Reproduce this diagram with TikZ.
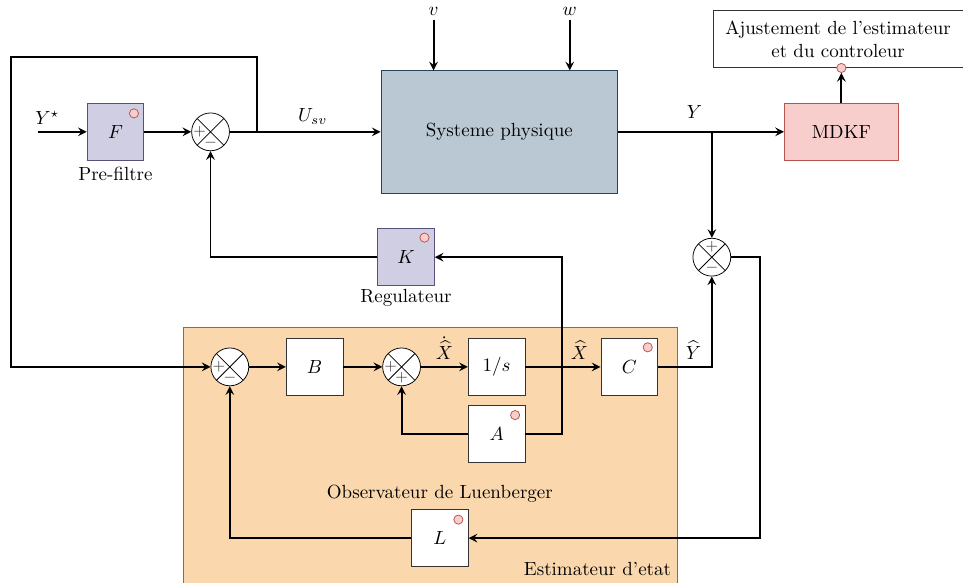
\documentclass[tikz,border=0pt]{standalone}
\usepackage{amsmath, amssymb}
\usepackage{xcolor}
\usepackage{tikz}
\usetikzlibrary{arrows, positioning, calc, backgrounds}

\definecolor{sysfill}{HTML}{BAC8D3}
\definecolor{sysdraw}{HTML}{23445D}
\definecolor{regfill}{HTML}{D0CEE2}
\definecolor{regdraw}{HTML}{56517E}
\definecolor{redfill}{HTML}{F8CECC}
\definecolor{reddraw}{HTML}{B85450}
\definecolor{estfill}{HTML}{FAD7AC}
\definecolor{estdraw}{HTML}{B46504}

\begin{document}
\begin{tikzpicture}[
    box/.style={draw=black!80, rectangle, minimum width=1.05cm, minimum height=1.05cm,
      fill=white, align=center},
    regbox/.style={box, draw=regdraw, fill=regfill},
    sysbox/.style={draw=sysdraw, fill=sysfill, rectangle, minimum width=4.38cm,
      minimum height=2.26cm},
    sumnode/.style={draw, circle, minimum size=0.7cm, inner sep=0pt, fill=white,
      path picture={\draw (path picture bounding box.north west) -- (path picture bounding box.south east)
        (path picture bounding box.north east) -- (path picture bounding box.south west);}},
    sign/.style={inner sep=0pt, font=\footnotesize, text=black!75},
    dot/.style={draw=reddraw, fill=redfill, circle, minimum size=0.17cm, inner sep=0pt},
    arrow/.style={line width=1pt,->,>=stealth}
]
\useasboundingbox (0,0) rectangle (17.82,-10.77);

% chaine directe
\node[sysbox] (sys) at (9.24,-2.44) {Systeme physique};
\node[sumnode, left=2.79cm of sys] (s1) {};
\node[regbox, left=0.87cm of s1] (F) {$F$};
\node[below=0pt of F] (Flbl) {Pre-filtre};
\coordinate[left=0.91cm of F] (yin);
\node[box, draw=reddraw, fill=redfill, minimum width=2.11cm, right=3.07cm of sys] (mdkf) {MDKF};
\node[box, minimum width=4.63cm, above=0.65cm of mdkf, xshift=-0.06cm] (ajust) {Ajustement de l'estimateur\\et du controleur};
\node[dot] (adot) at (ajust.south -| mdkf.north) {};
\coordinate[above=0.94cm of sys.north west, xshift=0.98cm] (vin);
\coordinate[above=0.94cm of sys.north west, xshift=3.5cm] (win);

% regulateur
\node[regbox, below=0.65cm of sys.south west, xshift=0.47cm] (K) {$K$};
\node[below=-2pt of K] (Klbl) {Regulateur};
\node[sumnode, right=4.77cm of K] (s3) {};

% observateur
\node[box, below=2.68cm of sys, xshift=-0.05cm] (inv) {$1/s$};
\node[sumnode, left=0.87cm of inv] (s4) {};
\node[box, left=0.72cm of s4] (B) {$B$};
\node[sumnode, left=0.68cm of B] (s2) {};
\node[box, right=1.39cm of inv] (C) {$C$};
\node[box, below=0.17cm of inv] (A) {$A$};
\node[box, below=0.87cm of A, xshift=-1.05cm] (L) {$L$};
\node[above=0pt of L] (Llbl) {Observateur de Luenberger};
\coordinate (estSE) at (12.54,-10.77);
\node[anchor=south east] (estlbl) at (estSE) {Estimateur d'etat};

\begin{scope}[on background layer]
\draw[estdraw, fill=estfill] (3.39,-6.05) rectangle (12.54,-10.95);
\end{scope}

% pastilles
\node[dot] (Fdot) at ([shift={(-0.19,-0.19)}]F.north east) {};
\node[dot] (Kdot) at ([shift={(-0.19,-0.17)}]K.north east) {};
\node[dot] (Cdot) at ([shift={(-0.19,-0.17)}]C.north east) {};
\node[dot] (Adot) at ([shift={(-0.19,-0.19)}]A.north east) {};
\node[dot] (Ldot) at ([shift={(-0.19,-0.19)}]L.north east) {};

% signes
\node[sign] (s1a) at ([xshift=-0.2cm]s1.center) {$+$};
\node[sign] (s1b) at ([yshift=-0.2cm]s1.center) {$-$};
\node[sign] (s2a) at ([xshift=-0.2cm]s2.center) {$+$};
\node[sign] (s2b) at ([yshift=-0.2cm]s2.center) {$-$};
\node[sign] (s4a) at ([xshift=-0.2cm]s4.center) {$+$};
\node[sign] (s4b) at ([yshift=-0.2cm]s4.center) {$+$};
\node[sign] (s3a) at ([yshift=0.2cm]s3.center) {$+$};
\node[sign] (s3b) at ([yshift=-0.2cm]s3.center) {$-$};

\coordinate[right=0.5cm of s1.east] (tap);
\coordinate (ytap) at (s3 |- mdkf.west);
\coordinate (fbcorner) at (0.2,-1.05);

\draw[arrow] (yin) -- node[above, pos=0.2] {$Y^\star$} (F);
\draw[arrow] (F) -- (s1);
\draw[arrow] (s1) -- node[above, pos=0.55] {$U_{sv}$} (sys);
\draw[arrow] (vin) node[above, inner sep=1.5pt] {$v$} -- (vin |- sys.north);
\draw[arrow] (win) node[above, inner sep=1.5pt] {$w$} -- (win |- sys.north);
\draw[arrow] (sys.east) -- node[above=3pt, pos=0.46] {$Y$} (mdkf);
\draw[arrow] (mdkf) -- (adot);
\draw[arrow] (ytap) -- (s3);
\draw[arrow] (tap) |- (fbcorner) |- (s2.west);
\draw[arrow] (K.west) -| (s1.south);
\draw[arrow] (A.east) -- ++(0.68,0) |- (K.east);
\draw[arrow] (s2) -- (B);
\draw[arrow] (B) -- (s4);
\draw[arrow] (s4) -- node[above] {$\dot{\widehat{X}}$} (inv);
\draw[arrow] (inv) -- node[above, pos=0.72] {$\widehat{X}$} (C);
\draw[arrow] (A.west) -| (s4.south);
\draw[arrow] (C.east) -| node[above, pos=0.33] {$\widehat{Y}$} (s3.south);
\draw[arrow] (s3.east) -- ++(0.54,0) |- (L.east);
\draw[arrow] (L.west) -| (s2.south);
\end{tikzpicture}
\end{document}
